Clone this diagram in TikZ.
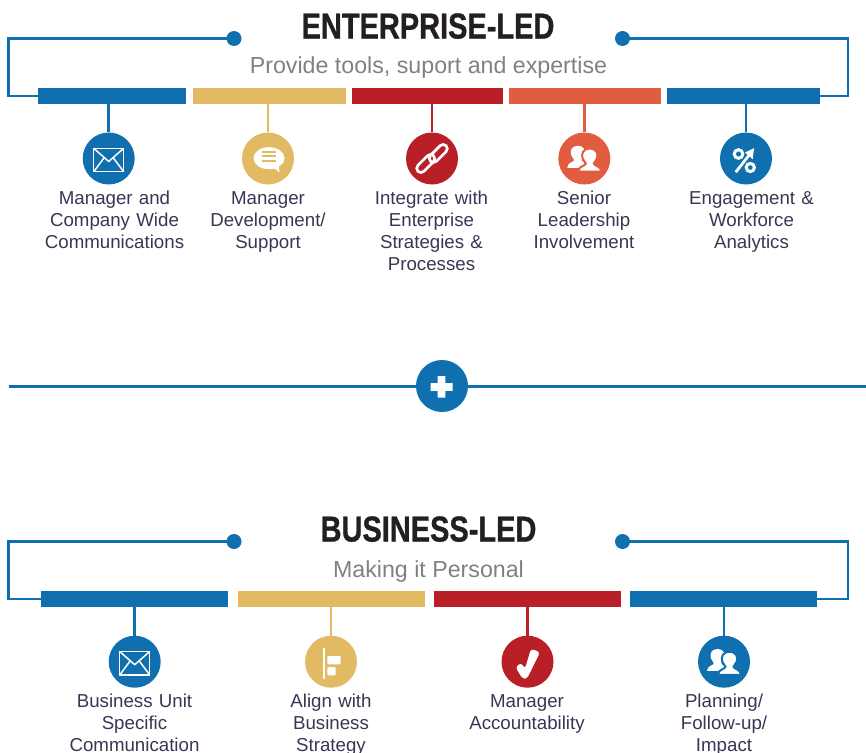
\documentclass[tikz,border=0pt]{standalone}
\usepackage{fontspec}
\setmainfont[BoldFeatures={FakeBold=1}]{Liberation Sans}
\definecolor{cblue}{HTML}{1070AF}
\definecolor{cyellow}{HTML}{E3BA64}
\definecolor{cred}{HTML}{B91F26}
\definecolor{corange}{HTML}{E25C40}
\definecolor{ctext}{HTML}{3B3553}
\definecolor{csub}{HTML}{808184}
\definecolor{ctitle}{HTML}{231F20}
\newcommand\personshape{(0,-10.5) .. controls (-6,-10.5) and (-7.5,-6) .. (-6.3,-2) .. controls (-5.7,0) and (-4.8,1) .. (-3.5,2.5) .. controls (-3.5,4.5) and (-10,4.5) .. (-10,9.5) -- (10,9.5) .. controls (10,4.5) and (3.5,4.5) .. (3.5,2.5) .. controls (4.8,1) and (5.7,0) .. (6.3,-2) .. controls (7.5,-6) and (6,-10.5) .. (0,-10.5) -- cycle}
\tikzset{
  bar/.style={rectangle,inner sep=0pt,minimum height=16pt,fill=#1},
  disc/.style={circle,inner sep=0pt,minimum size=52pt,fill=#1},
  dot/.style={circle,inner sep=0pt,minimum size=15pt,fill=cblue},
  stem/.style={line width=2.8pt,draw=#1},
  bracket/.style={line width=2.5pt,draw=cblue,line join=miter},
  label/.style={text=ctext,align=center,anchor=north,inner sep=0pt,text width=150pt,font=\fontsize{18.7pt}{22pt}\selectfont,execute at begin node=\strut},
  head/.style={text=ctitle,inner sep=0pt,anchor=base,font=\fontsize{36pt}{36pt}\selectfont\bfseries},
  subhead/.style={text=csub,inner sep=0pt,anchor=base,font=\fontsize{23.2pt}{24pt}\selectfont},
  pics/envelope/.style={code={
    \draw[white,line width=1.5pt,line join=round] (-15,-10.2) rectangle (15,13.2);
    \draw[white,line width=1.5pt,line join=round] (-15,-10.2) -- (0,3) -- (15,-10.2);
    \draw[white,line width=1.5pt] (-15,13.2) -- (-4.5,-0.8) (15,13.2) -- (4.5,-0.8);
  }},
  pics/bubble/.style={code={
    \fill[white] (1,-0.3) ellipse (15.5 and 11);
    \fill[white] (4,8) -- (11.5,14) -- (10.5,6) -- cycle;
    \draw[cyellow,line width=2pt] (-6,-7) -- (8,-7) (-6,-2.5) -- (8,-2.5) (-6,2) -- (8,2);
  }},
  pics/chain/.style={code={
    \draw[white,line width=2.7pt,rotate=45,rounded corners=4.2pt] (-3,-3.3) rectangle (19,5.1);
    \draw[white,line width=2.7pt,rotate=45,rounded corners=4.2pt] (-19,-5.1) rectangle (3,3.3);
  }},
  pics/people/.style={code={
    \fill[white,shift={(-6.5,-1.2)},xscale=1.05,yscale=1.1] \personshape;
    \draw[#1,fill=white,line width=2pt,shift={(5.5,2.2)},scale=1.15] \personshape;
  }},
  pics/percent/.style={code={
    \draw[white,line width=3pt] (-7.5,-4.5) circle (4.3) (4.3,9) circle (4.1);
    \draw[white,line width=2.8pt] (-10.3,13.7) -- (4,-4.5);
    \fill[white] (8,-10.3) -- (6.7,0.7) -- (-1,-6) -- cycle;
  }},
  pics/check/.style={code={
    \fill[white,rounded corners=3pt] (-12,5.5) -- (-6.5,1) -- (-2.5,7) -- (3.5,-13) -- (12.5,-9.5) -- (-0.5,17) -- (-5,17) -- cycle;
  }},
  pics/align/.style={code={
    \fill[white] (-8,-13.7) rectangle (-6.2,17);
    \fill[white,rounded corners=1pt] (-3.7,-5.7) rectangle (9.7,2.6);
    \fill[white,rounded corners=1pt] (-3.7,5.3) rectangle (4.7,13.6);
  }},
}
\begin{document}
\begin{tikzpicture}[x=1pt,y=-1pt]
\useasboundingbox (0,0) rectangle (866,752);

% ---------- Enterprise-led
\node[head] (t1) at (428,38.5) {\scalebox{0.805}[1]{ENTERPRISE-LED}};
\node[subhead] (s1) at (428.5,74) {Provide tools, suport and expertise};

\node[bar=cblue,minimum width=148pt] (b11) at (112,96) {};
\node[bar=cyellow,minimum width=153pt] (b12) at (269.5,96) {};
\node[bar=cred,minimum width=151pt] (b13) at (427.5,96) {};
\node[bar=corange,minimum width=152pt] (b14) at (585,96) {};
\node[bar=cblue,minimum width=153pt] (b15) at (743.5,96) {};

\node[dot] (d11) at (234,38.5) {};
\node[dot] (d12) at (622.5,38.5) {};
\draw[bracket] (d11.center) -- (8.5,38.5) -- (8.5,96) -- (b11.west);
\draw[bracket] (d12.center) -- (848,38.5) -- (848,96) -- (b15.east);

\node[disc=cblue] (c11) at (108.7,158.5) {};
\node[disc=cyellow] (c12) at (268,158.5) {};
\node[disc=cred] (c13) at (432,158.5) {};
\node[disc=corange] (c14) at (584.3,158.5) {};
\node[disc=cblue] (c15) at (746,158.5) {};

\draw[stem=cblue] (c11.north) -- (c11.north |- b11.south);
\draw[stem=cyellow] (c12.north) -- (c12.north |- b12.south);
\draw[stem=cred] (c13.north) -- (c13.north |- b13.south);
\draw[stem=corange] (c14.north) -- (c14.north |- b14.south);
\draw[stem=cblue] (c15.north) -- (c15.north |- b15.south);

\pic at (c11.center) {envelope};
\pic at (c12.center) {bubble};
\pic at (c13.center) {chain};
\pic at (c14.center) {people=corange};
\pic at (c15.center) {percent};

\node[label] (l11) at (114.5,189.3) {Manager and\\Company Wide\\Communications};
\node[label] (l12) at (268,189.3) {Manager\\Development/\\Support};
\node[label] (l13) at (431.5,189.3) {Integrate with\\Enterprise\\Strategies \&\\Processes};
\node[label] (l14) at (584,189.3) {Senior\\Leadership\\Involvement};
\node[label] (l15) at (751.5,189.3) {Engagement \&\\Workforce\\Analytics};

% ---------- plus divider
\node[disc=cblue] (plus) at (442,386) {};
\coordinate (pl) at (9,386);
\coordinate (pr) at (866,386);
\draw[line width=3pt,draw=cblue] (pl) -- (plus.west) (plus.east) -- (pr);
\fill[white] (430.7,383.2) rectangle (452.7,390.8) (437.7,376) rectangle (445.4,397.7);

% ---------- Business-led
\node[head] (t2) at (428.5,541.5) {\scalebox{0.805}[1]{BUSINESS-LED}};
\node[subhead] (s2) at (428.5,577) {Making it Personal};

\node[bar=cblue,minimum width=187pt] (b21) at (134.5,599) {};
\node[bar=cyellow,minimum width=187pt] (b22) at (331.5,599) {};
\node[bar=cred,minimum width=187pt] (b23) at (527.5,599) {};
\node[bar=cblue,minimum width=187pt] (b24) at (723.5,599) {};

\node[dot] (d21) at (234,541.5) {};
\node[dot] (d22) at (622.5,541.5) {};
\draw[bracket] (d21.center) -- (8.5,541.5) -- (8.5,599) -- (b21.west);
\draw[bracket] (d22.center) -- (848,541.5) -- (848,599) -- (b24.east);

\node[disc=cblue] (c21) at (134.7,661.7) {};
\node[disc=cyellow] (c22) at (331,661.7) {};
\node[disc=cred] (c23) at (527.5,661.7) {};
\node[disc=cblue] (c24) at (724,661.7) {};

\draw[stem=cblue] (c21.north) -- (c21.north |- b21.south);
\draw[stem=cyellow] (c22.north) -- (c22.north |- b22.south);
\draw[stem=cred] (c23.north) -- (c23.north |- b23.south);
\draw[stem=cblue] (c24.north) -- (c24.north |- b24.south);

\pic at (c21.center) {envelope};
\pic at (c22.center) {align};
\pic at (c23.center) {check};
\pic at (c24.center) {people=cblue};

\node[label] (l21) at (134.5,692.3) {Business Unit\\Specific\\Communication};
\node[label] (l22) at (331,692.3) {Align with\\Business\\Strategy};
\node[label] (l23) at (527,692.3) {Manager\\Accountability};
\node[label] (l24) at (724,692.3) {Planning/\\Follow-up/\\Impact};
\end{tikzpicture}
\end{document}
